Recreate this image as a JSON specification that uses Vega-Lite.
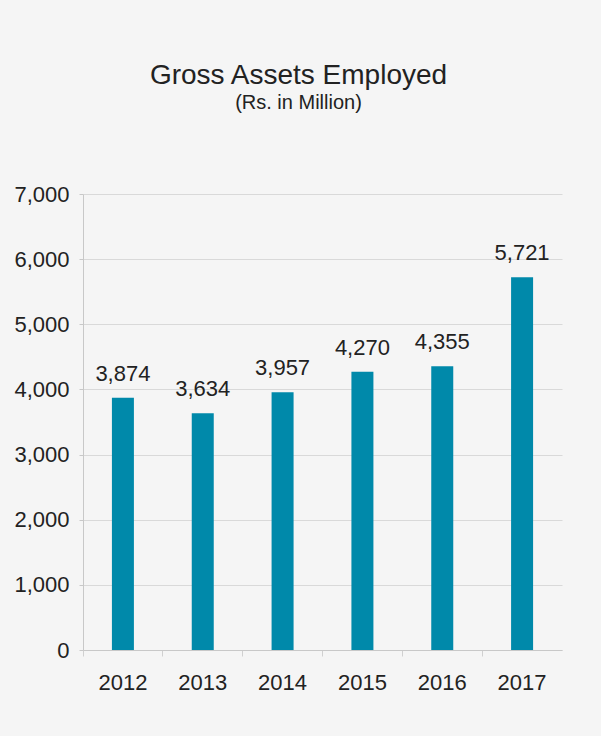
{
  "$schema": "https://vega.github.io/schema/vega-lite/v6.json",
  "width": 479,
  "height": 456,
  "autosize": "none",
  "padding": {"left": 83, "top": 194, "right": 39, "bottom": 86},
  "background": "#f5f5f5",
  "config": {
    "font": "Liberation Sans, Arial, sans-serif",
    "view": {"stroke": null}
  },
  "title": {
    "text": "Gross Assets Employed",
    "subtitle": "(Rs. in Million)",
    "anchor": "middle",
    "dx": -24,
    "fontSize": 28,
    "fontWeight": "normal",
    "color": "#222222",
    "subtitleFontSize": 20,
    "subtitleColor": "#222222",
    "subtitlePadding": 3,
    "offset": 70
  },
  "data": {
    "values": [
      {"year": "2012", "value": 3874},
      {"year": "2013", "value": 3634},
      {"year": "2014", "value": 3957},
      {"year": "2015", "value": 4270},
      {"year": "2016", "value": 4355},
      {"year": "2017", "value": 5721}
    ]
  },
  "encoding": {
    "x": {
      "field": "year",
      "type": "nominal",
      "title": null,
      "scale": {"paddingInner": 0, "paddingOuter": 0},
      "axis": {
        "labelAngle": 0,
        "labelFontSize": 22,
        "labelColor": "#222222",
        "labelPadding": 16,
        "domainColor": "#c8c8c8",
        "tickColor": "#d0d0d0",
        "tickSize": 6,
        "bandPosition": 0,
        "grid": false
      }
    },
    "y": {
      "field": "value",
      "type": "quantitative",
      "title": null,
      "scale": {"domain": [0, 7000], "nice": false},
      "axis": {
        "values": [0, 1000, 2000, 3000, 4000, 5000, 6000, 7000],
        "format": ",d",
        "labelFontSize": 22,
        "labelColor": "#222222",
        "labelPadding": 10,
        "domainColor": "#c8c8c8",
        "tickColor": "#c8c8c8",
        "tickSize": 4,
        "gridColor": "#d9d9d9",
        "gridWidth": 1
      }
    }
  },
  "layer": [
    {"mark": {"type": "bar", "width": 22, "color": "#0089AA"}},
    {
      "mark": {"type": "text", "baseline": "bottom", "dy": -12, "fontSize": 22, "color": "#222222"},
      "encoding": {"text": {"field": "value", "type": "quantitative", "format": ",d"}}
    }
  ]
}
